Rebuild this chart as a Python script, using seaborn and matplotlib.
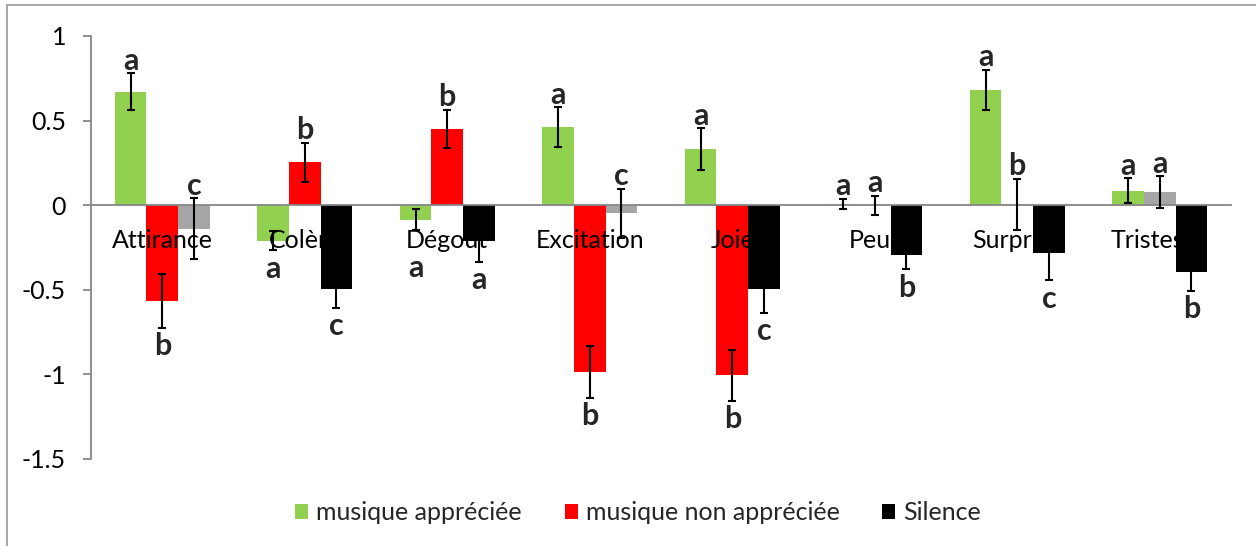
import numpy as np
import pandas as pd
import matplotlib
matplotlib.use("Agg")
import matplotlib.pyplot as plt
from matplotlib.patches import Patch, Rectangle
from matplotlib.ticker import FixedLocator, FuncFormatter
import seaborn as sns

# --- data ---
emotions = ["Attirance", "Colère", "Dégout", "Excitation", "Joie", "Peur", "Surprise", "Tristesse"]
conditions = ["musique appréciée", "musique non appréciée", "Silence"]

liked = [0.67, -0.21, -0.085, 0.46, 0.33, 0.008, 0.68, 0.085]
liked_err = [0.11, 0.057, 0.063, 0.118, 0.124, 0.03, 0.12, 0.074]
disliked = [-0.565, 0.255, 0.45, -0.985, -1.005, 0.0, 0.005, 0.078]
disliked_err = [0.16, 0.115, 0.113, 0.154, 0.152, 0.055, 0.15, 0.093]
silence = [-0.138, -0.495, -0.213, -0.049, -0.495, -0.295, -0.282, -0.395]
silence_err = [0.178, 0.112, 0.122, 0.145, 0.144, 0.085, 0.163, 0.11]

letters_liked = ["a", "a", "a", "a", "a", "a", "a", "a"]
letters_disliked = ["b", "b", "b", "b", "b", "a", "b", "a"]
letters_silence = ["c", "c", "a", "c", "c", "b", "c", "b"]

# (condition index, emotion index) of the bars shown in grey
grey_bars = [(2, 0), (2, 3), (0, 5), (1, 5), (1, 6), (1, 7)]
# letters that were dragged by hand in the original (extra offset, points)
letter_nudge = {(0, 2): -14}

colors = ["#92D050", "#FF0000", "#000000"]
grey = "#A6A6A6"
axis_grey = "#868686"

values = [liked, disliked, silence]
errors = [liked_err, disliked_err, silence_err]
letters = [letters_liked, letters_disliked, letters_silence]

df = pd.DataFrame({
    "emotion": emotions * 3,
    "condition": np.repeat(conditions, len(emotions)),
    "value": liked + disliked + silence,
})

sns.set_theme(style="white")
plt.rcParams["font.family"] = ["Lato", "DejaVu Sans"]
plt.rcParams["axes.unicode_minus"] = False

fig = plt.figure(figsize=(12.56, 5.46), dpi=100)
ax = fig.add_axes([91 / 1256, 1 - 459 / 546, (1231 - 91) / 1256, (459 - 36) / 546])

sns.barplot(data=df, x="emotion", y="value", hue="condition", order=emotions,
            hue_order=conditions, palette=colors, width=2 / 3, gap=0,
            errorbar=None, saturation=1, legend=False, ax=ax)

bar_containers = list(ax.containers)
for i, cont in enumerate(bar_containers):
    for j, bar in enumerate(cont.patches):
        if (i, j) in grey_bars:
            bar.set_facecolor(grey)
        bar.set_edgecolor("none")
        xc = bar.get_x() + bar.get_width() / 2
        v, e = values[i][j], errors[i][j]
        ax.errorbar(xc, v, yerr=e, fmt="none", ecolor="black", elinewidth=1.5,
                    capsize=2.8, capthick=1.5, zorder=3)
        dy = letter_nudge.get((i, j), 0)
        if v + e > 0:
            ax.annotate(letters[i][j], (xc, v + e), xytext=(0, -1 + dy), textcoords="offset points",
                        ha="center", va="bottom", fontsize=22, fontweight="bold")
        else:
            ax.annotate(letters[i][j], (xc, v - e), xytext=(0, -3 + dy), textcoords="offset points",
                        ha="center", va="top", fontsize=22, fontweight="bold")

# axes styling (Excel look): axis labels sit on top of the bars
ax.set_axisbelow(False)
ax.set_xlim(-0.5, 7.5)
ax.set_ylim(-1.5, 1)
ax.yaxis.set_major_locator(FixedLocator([-1.5, -1, -0.5, 0, 0.5, 1]))
ax.yaxis.set_major_formatter(FuncFormatter(lambda v, p: f"{v:g}"))
ax.xaxis.set_minor_locator(FixedLocator(np.arange(-0.5, 8, 1)))
ax.set_xlabel("")
ax.set_ylabel("")

for s in ["top", "right"]:
    ax.spines[s].set_visible(False)
ax.spines["bottom"].set_position(("data", 0))
for s in ["left", "bottom"]:
    ax.spines[s].set_color(axis_grey)
    ax.spines[s].set_linewidth(1.3)

ax.tick_params(axis="x", which="major", length=0, pad=17, labelsize=18, labelcolor="black")
ax.tick_params(axis="x", which="minor", direction="out", length=6.5, width=1.3, color=axis_grey)
ax.tick_params(axis="y", direction="out", length=6, width=1.3, color=axis_grey,
               pad=12, labelsize=18, labelcolor="black", left=True)

# legend
handles = [Patch(facecolor=c, edgecolor="none") for c in colors]
fig.legend(handles, conditions, loc="center", bbox_to_anchor=(638 / 1256, 33 / 546),
           ncol=3, frameon=False, fontsize=18, handlelength=0.52, handleheight=0.52,
           handletextpad=0.32, columnspacing=1.7)

# chart-area border (only left and top edges visible in the crop)
fig.add_artist(Rectangle((7 / 1256, -0.5), 2, 1.5 - 5 / 546, transform=fig.transFigure,
                         fill=False, edgecolor="#A0A0A0", linewidth=1.3, clip_on=False))

fig.savefig("out.png", dpi=100)
